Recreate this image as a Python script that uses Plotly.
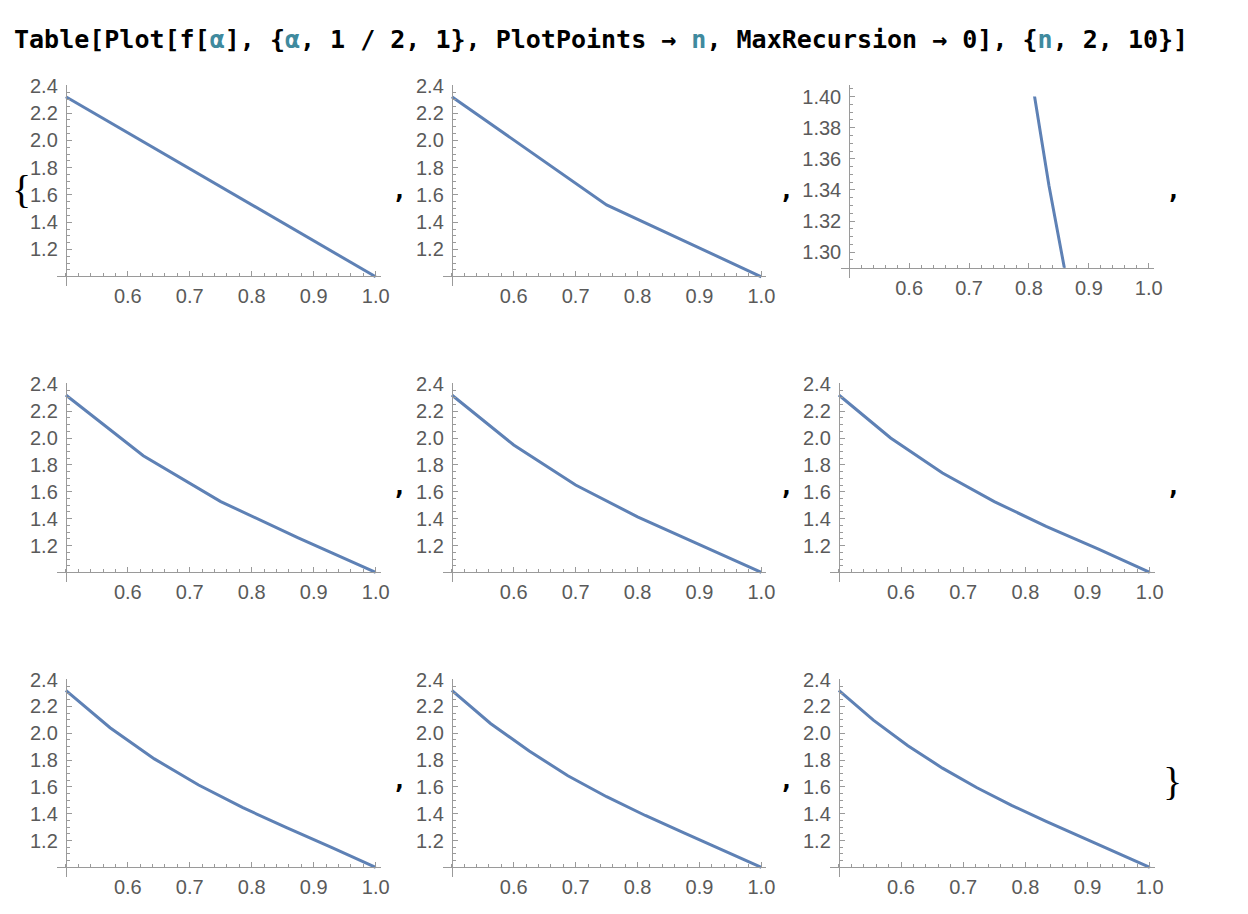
import plotly.graph_objects as go

# the snapshot of the page comes out slightly scaled and pushed down,
# so positions below are given in target pixels and mapped through these
SCALE = 0.991
TOP = 10.0
W, H = 1248, 904

# alpha sample points and f[alpha] values (PlotPoints -> n)
n_values = [2, 3, 4, 5, 6, 7, 8, 9, 10]

alpha_2 = [0.5, 1.0]
f_2 = [2.32, 1.0]

alpha_3 = [0.5, 0.75, 1.0]
f_3 = [2.32, 1.527, 1.0]

alpha_4 = [0.5, 0.6667, 0.8333, 1.0]
f_4 = [2.32, 1.74, 1.343, 1.0]

alpha_5 = [0.5, 0.625, 0.75, 0.875, 1.0]
f_5 = [2.32, 1.868, 1.527, 1.257, 1.0]

alpha_6 = [0.5, 0.6, 0.7, 0.8, 0.9, 1.0]
f_6 = [2.32, 1.948, 1.650, 1.414, 1.207, 1.0]

alpha_7 = [0.5, 0.5833, 0.6667, 0.75, 0.8333, 0.9167, 1.0]
f_7 = [2.32, 2.0, 1.74, 1.527, 1.343, 1.176, 1.0]

alpha_8 = [0.5, 0.5714, 0.6429, 0.7143, 0.7857, 0.8571, 0.9286, 1.0]
f_8 = [2.32, 2.041, 1.809, 1.614, 1.445, 1.294, 1.149, 1.0]

alpha_9 = [0.5, 0.5625, 0.625, 0.6875, 0.75, 0.8125, 0.875, 0.9375, 1.0]
f_9 = [2.32, 2.073, 1.868, 1.683, 1.527, 1.387, 1.257, 1.131, 1.0]

alpha_10 = [0.5, 0.5556, 0.6111, 0.6667, 0.7222, 0.7778, 0.8333, 0.8889, 0.9444, 1.0]
f_10 = [2.32, 2.098, 1.907, 1.74, 1.594, 1.463, 1.343, 1.229, 1.116, 1.0]

series = [(alpha_2, f_2), (alpha_3, f_3), (alpha_4, f_4), (alpha_5, f_5), (alpha_6, f_6),
          (alpha_7, f_7), (alpha_8, f_8), (alpha_9, f_9), (alpha_10, f_10)]

x_ticks = [0.6, 0.7, 0.8, 0.9, 1.0]
y_ticks = [1.2, 1.4, 1.6, 1.8, 2.0, 2.2, 2.4]
y_ticks_n4 = [1.30, 1.32, 1.34, 1.36, 1.38, 1.40]

LINE = "#5E81B5"
AXIS = "#9a9a9a"
LABEL = "#5a5a5a"
TEAL = "#3f8a9e"

# target-pixel geometry: x pixel of alpha=0.5 / 1.0 per column, y pixel of 2.4 / 1.2 per row
col_px = [(65.7, 375.0), (451.0, 760.0), (837.3, 1147.7)]
row_px = [(86.0, 250.0), (385.0, 546.7), (681.0, 842.3)]


def fx(px):
    return (px / SCALE) / W


def fy(py):
    return 1 - ((py - TOP) / SCALE) / H


fig = go.Figure()
layout = {}


def axis_style():
    return dict(
        showline=True, linecolor=AXIS, linewidth=1,
        ticks="inside", ticklen=5, tickwidth=1, tickcolor=AXIS,
        showgrid=False, zeroline=False, fixedrange=True,
        tickfont=dict(family="Liberation Sans", size=20, color=LABEL),
    )


for i, (xs, ys) in enumerate(series):
    r, c = divmod(i, 3)
    k = i + 1
    xname = "xaxis" if k == 1 else f"xaxis{k}"
    yname = "yaxis" if k == 1 else f"yaxis{k}"
    xref = "x" if k == 1 else f"x{k}"
    yref = "y" if k == 1 else f"y{k}"

    x0, x1 = col_px[c]
    if n_values[i] == 4:
        x0, x1 = 847.7, 1146.7
    sx = (x1 - x0) / 0.5
    xlo, xhi = 0.5 - 8.7 / sx, 1.0 + 5 / sx

    if n_values[i] == 4:
        # odd automatic plot range of the PlotPoints -> 4 panel
        p_top, v_top, sy = 96.7, 1.40, 1560.0
        ylo, yhi, ycross = 1.2836, 1.4075, 1.29
        yt, yfmt = y_ticks_n4, ".2f"
        ymin_vals = [round(1.29 + 0.005 * j, 3) for j in range(1, 24)]
    else:
        p_top, v_top = row_px[r][0], 2.4
        sy = (row_px[r][1] - row_px[r][0]) / 1.2
        ylo, yhi, ycross = 0.931, 2.407, 1.005
        yt, yfmt = y_ticks, ".1f"
        ymin_vals = [round(1.05 + 0.05 * j, 2) for j in range(0, 27)]

    def ypix(v):
        return p_top + (v_top - v) * sy

    xa = axis_style()
    xa.update(domain=[fx(x0 - 8.7), fx(x1 + 5)], range=[xlo, xhi],
              anchor="free", position=fy(ypix(ycross)),
              tickvals=x_ticks, tickformat=".1f", ticklabelstandoff=2,
              minor=dict(tickvals=[round(0.5 + 0.02 * j, 2) for j in range(0, 26)],
                         ticks="inside", ticklen=3, tickcolor=AXIS, showgrid=False))
    ya = axis_style()
    ya.update(domain=[fy(ypix(ylo)), fy(ypix(yhi))], range=[ylo, yhi],
              anchor="free", position=fx(x0),
              tickvals=yt, tickformat=yfmt, ticklabelstandoff=4,
              minor=dict(tickvals=ymin_vals, ticks="inside", ticklen=3,
                         tickcolor=AXIS, showgrid=False))
    layout[xname] = xa
    layout[yname] = ya

    if n_values[i] == 4:
        # empty trace so the visible axes get drawn
        fig.add_trace(go.Scatter(x=[], y=[], mode="lines", xaxis=xref, yaxis=yref,
                                 showlegend=False, hoverinfo="skip"))
        # the curve itself sits on hidden axes clipped to the plot range 1.29 .. 1.40
        layout["xaxis10"] = dict(domain=xa["domain"], range=[xlo, xhi], visible=False,
                                 anchor="y10", fixedrange=True)
        layout["yaxis10"] = dict(domain=[fy(ypix(1.29)), fy(ypix(1.40))],
                                 range=[1.29, 1.40], visible=False, anchor="x10",
                                 fixedrange=True)
        xref, yref = "x10", "y10"

    fig.add_trace(go.Scatter(x=xs, y=ys, mode="lines", xaxis=xref, yaxis=yref,
                             line=dict(color=LINE, width=3), showlegend=False,
                             hoverinfo="skip"))

mono = "DejaVu Sans Mono"
a = f"<span style='color:{TEAL}'>α</span>"
nn = f"<span style='color:{TEAL}'>n</span>"
title = (f"<b>Table[Plot[f[{a}], {{{a}, 1 / 2, 1}}, PlotPoints → {nn}, "
         f"MaxRecursion → 0], {{{nn}, 2, 10}}]</b>")

annotations = [dict(text=title, x=fx(12), y=fy(40), xref="paper", yref="paper",
                    xanchor="left", yanchor="middle", showarrow=False,
                    font=dict(family=mono, size=25, color="black"))]

comma_x = [399, 785, 1171]
comma_y = [191, 487, 782]
for r in range(3):
    for c in range(3):
        if r == 2 and c == 2:
            continue
        annotations.append(dict(text="<b>,</b>", x=fx(comma_x[c]), y=fy(comma_y[r]),
                                xref="paper", yref="paper", xanchor="center",
                                yanchor="middle", showarrow=False,
                                font=dict(family=mono, size=25, color="black")))

annotations.append(dict(text="{", x=fx(21), y=fy(190), xref="paper", yref="paper",
                        xanchor="center", yanchor="middle", showarrow=False,
                        font=dict(family="Liberation Serif", size=40, color="black")))
annotations.append(dict(text="}", x=fx(1170), y=fy(783), xref="paper", yref="paper",
                        xanchor="center", yanchor="middle", showarrow=False,
                        font=dict(family="Liberation Serif", size=40, color="black")))

fig.update_layout(
    width=W, height=H,
    margin=dict(l=0, r=0, t=0, b=0),
    paper_bgcolor="white", plot_bgcolor="rgba(0,0,0,0)",
    showlegend=False,
    annotations=annotations,
    **layout,
)

fig.write_html("out.html", config={"displayModeBar": False},
               post_script="document.body.style.margin='0';")
